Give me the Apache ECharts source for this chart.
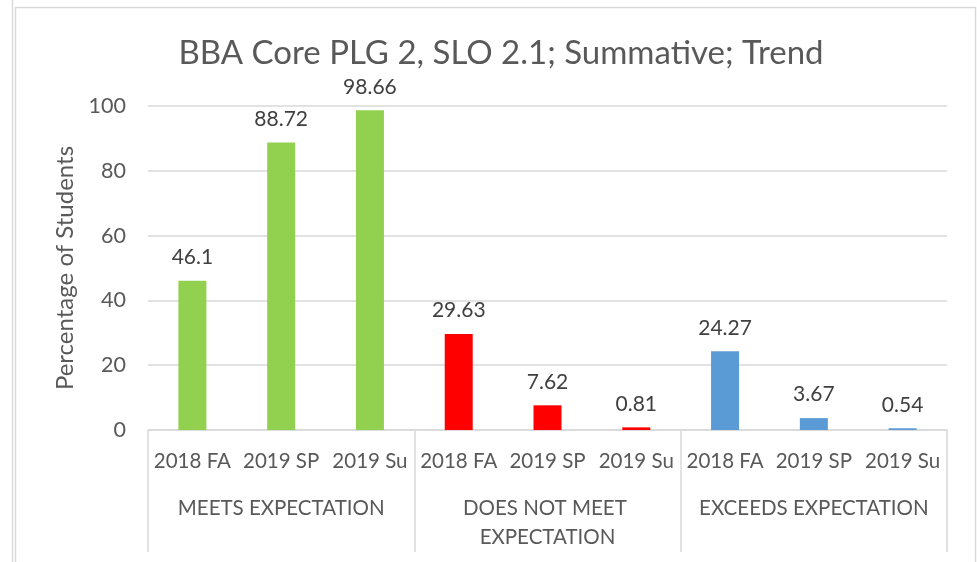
<!DOCTYPE html>
<html>
<head>
<meta charset="utf-8">
<script src="https://cdn.jsdelivr.net/npm/echarts@6/dist/echarts.min.js"></script>
<style>
  html, body { margin: 0; padding: 0; background: #fff; }
  #chart { width: 977px; height: 562px; }
</style>
</head>
<body>
<div id="chart"></div>
<script>
const groups = ['MEETS EXPECTATION', 'DOES NOT MEET EXPECTATION', 'EXCEEDS EXPECTATION']
const terms = ['2018 FA', '2019 SP', '2019 Su']
const meets = [46.1, 88.72, 98.66]
const doesNotMeet = [29.63, 7.62, 0.81]
const exceeds = [24.27, 3.67, 0.54]
const groupColors = ['#92D050', '#FF0000', '#5B9BD5']
const yTicks = [0, 20, 40, 60, 80, 100]

const textColor = '#595959'
const lineColor = '#d9d9d9'
const font = 'Lato, "Open Sans", sans-serif'

// flatten groups -> 9 bars
let categories = []
let barData = []
;[meets, doesNotMeet, exceeds].forEach(function (vals, g) {
  vals.forEach(function (v, i) {
    categories.push(terms[i])
    barData.push({ value: v, itemStyle: { color: groupColors[g] } })
  })
})

let chart = echarts.init(document.getElementById('chart'))
let option = {
  animation: false,
  textStyle: { fontFamily: font },
  title: {
    text: 'BBA Core PLG 2, SLO 2.1; Summative; Trend',
    left: 496,
    textAlign: 'center',
    top: 32,
    textStyle: { color: textColor, fontSize: 33, fontWeight: 'normal', fontFamily: font }
  },
  graphic: [
    { type: 'line', shape: { x1: 12.5, y1: 0, x2: 12.5, y2: 562 }, style: { stroke: lineColor, lineWidth: 1.5 } },
    { type: 'rect', shape: { x: 15.5, y: 7.5, width: 960, height: 600 }, style: { fill: 'none', stroke: lineColor, lineWidth: 1.5 } }
  ],
  grid: {
    left: 148,
    right: 30,
    top: 106,
    bottom: 132
  },
  xAxis: [
    {
      type: 'category',
      data: categories,
      position: 'bottom',
      axisLine: { lineStyle: { color: lineColor, width: 1.5 } },
      axisTick: { show: false },
      axisLabel: { interval: 0, color: textColor, fontSize: 20.5, margin: 21, fontFamily: font }
    },
    {
      type: 'category',
      data: groups,
      position: 'bottom',
      axisLine: { show: false },
      axisTick: { show: true, interval: 0, length: 122, lineStyle: { color: lineColor, width: 1.5 } },
      axisLabel: {
        interval: 0, color: textColor, fontSize: 20.5, margin: 64, fontFamily: font,
        width: 240, overflow: 'break', lineHeight: 29
      }
    }
  ],
  yAxis: {
    type: 'value',
    min: yTicks[0],
    max: yTicks[yTicks.length - 1],
    interval: 20,
    name: 'Percentage of Students',
    nameLocation: 'middle',
    nameGap: 66,
    nameTextStyle: { color: textColor, fontSize: 24, fontFamily: font },
    axisLine: { show: false },
    axisTick: { show: false },
    axisLabel: { color: textColor, fontSize: 21.5, margin: 22, fontFamily: font },
    splitLine: { lineStyle: { color: lineColor, width: 1.5 } }
  },
  series: [
    {
      type: 'bar',
      data: barData,
      barWidth: 28,
      label: {
        show: true,
        position: 'top',
        distance: 13,
        color: '#404040',
        fontSize: 21,
        fontFamily: font
      }
    }
  ]
}
chart.setOption(option)

//window resize event
window.addEventListener('resize', function () {
  chart.resize()
})
</script>
</body>
</html>
